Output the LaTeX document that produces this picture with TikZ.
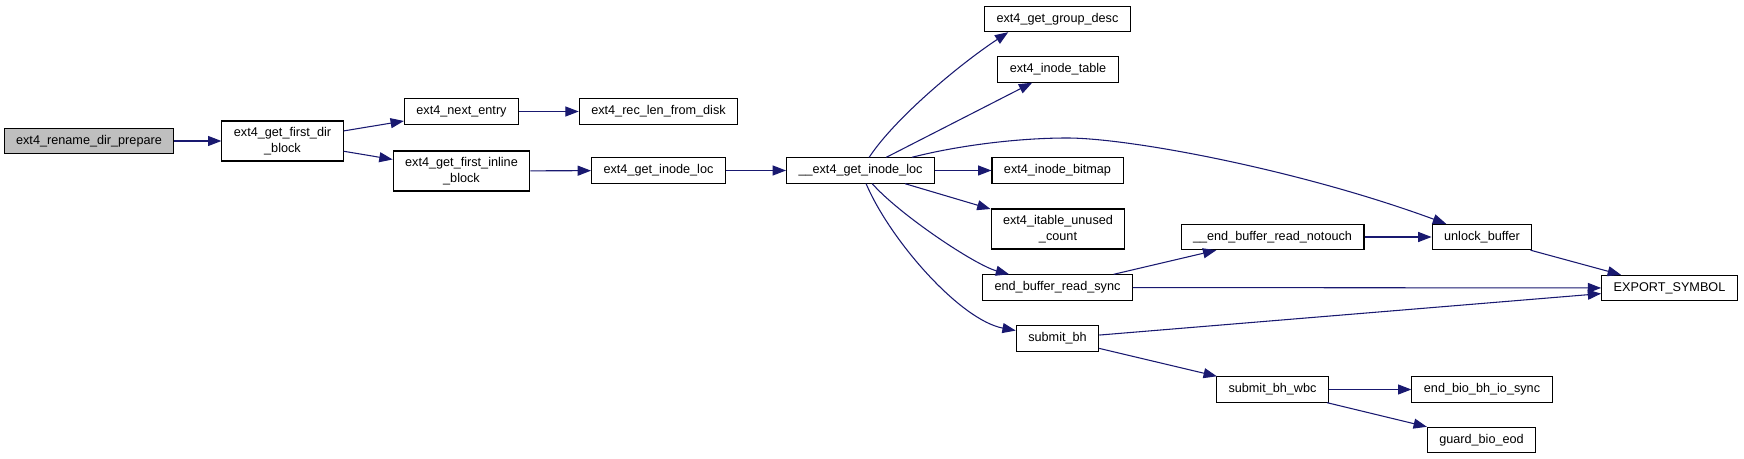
\documentclass[tikz,border=0pt]{standalone}
\usepackage{fontspec}
\setmainfont{Liberation Sans}
\usetikzlibrary{arrows.meta}
\definecolor{edgeblue}{HTML}{191970}

\begin{document}
\begin{tikzpicture}[
  x=0.75pt, y=-0.75pt,
  fn/.style={draw,line width=0.8pt,fill=white,inner xsep=9pt,inner ysep=2pt,minimum height=19pt,font=\fontsize{9.5}{11.7}\selectfont,align=center},  fnroot/.style={fn,fill=gray!50},  fntwo/.style={fn,minimum height=30pt},  call/.style={draw=edgeblue,line width=0.8pt,-{Triangle[length=10pt,width=7.5pt]}}
]
  \useasboundingbox (0,0) rectangle (1744,459);
  \node[fnroot] (rename) at (89,141) {ext4\_rename\_dir\_prepare};
  \node[fntwo] (fdir) at (282.5,141) {ext4\_get\_first\_dir\\\_block};
  \node[fn] (next) at (461.5,111.5) {ext4\_next\_entry};
  \node[fntwo] (finline) at (461.5,171) {ext4\_get\_first\_inline\\\_block};
  \node[fn] (reclen) at (658.5,111.5) {ext4\_rec\_len\_from\_disk};
  \node[fn] (iloc) at (658.5,170.5) {ext4\_get\_inode\_loc};
  \node[fn] (giloc) at (860.5,170.5) {\_\_ext4\_get\_inode\_loc};
  \node[fn] (gdesc) at (1057.5,19) {ext4\_get\_group\_desc};
  \node[fn] (itable) at (1058,69.5) {ext4\_inode\_table};
  \node[fn] (ibitmap) at (1057.5,170.5) {ext4\_inode\_bitmap};
  \node[fntwo] (unused) at (1058,229) {ext4\_itable\_unused\\\_count};
  \node[fn] (rsync) at (1057.5,287.5) {end\_buffer\_read\_sync};
  \node[fn] (sbh) at (1057.5,338.5) {submit\_bh};
  \node[fn] (notouch) at (1272.5,237) {\_\_end\_buffer\_read\_notouch};
  \node[fn] (wbc) at (1272.5,389.5) {submit\_bh\_wbc};
  \node[fn] (unlock) at (1482,237) {unlock\_buffer};
  \node[fn] (endbio) at (1482,389.5) {end\_bio\_bh\_io\_sync};
  \node[fn] (guard) at (1481.5,440) {guard\_bio\_eod};
  \node[fn] (export) at (1669.5,288) {EXPORT\_SYMBOL};
  \draw[call] (rename) -- (fdir);
  \draw[call] (fdir) -- (next);
  \draw[call] (fdir) -- (finline);
  \draw[call] (next) -- (reclen);
  \draw[call] (finline) -- (iloc);
  \draw[call] (iloc) -- (giloc);
  \draw[call] (giloc) .. controls (895,118) and (960,64) .. (gdesc.195);
  \draw[call] (giloc) -- (itable);
  \draw[call] (giloc) .. controls (960,145) and (1020,138) .. (1067,138) .. controls (1130,138) and (1300,170) .. (unlock);
  \draw[call] (giloc) -- (ibitmap);
  \draw[call] (giloc) -- (unused);
  \draw[call] (giloc) .. controls (900,215) and (975,265) .. (rsync);
  \draw[call] (giloc) .. controls (890,240) and (960,320) .. (sbh);
  \draw[call] (rsync) -- (notouch);
  \draw[call] (rsync) -- (export);
  \draw[call] (sbh) -- (export);
  \draw[call] (sbh) -- (wbc);
  \draw[call] (notouch) -- (unlock);
  \draw[call] (unlock) -- (export);
  \draw[call] (wbc) -- (endbio);
  \draw[call] (wbc) -- (guard);
\end{tikzpicture}
\end{document}
